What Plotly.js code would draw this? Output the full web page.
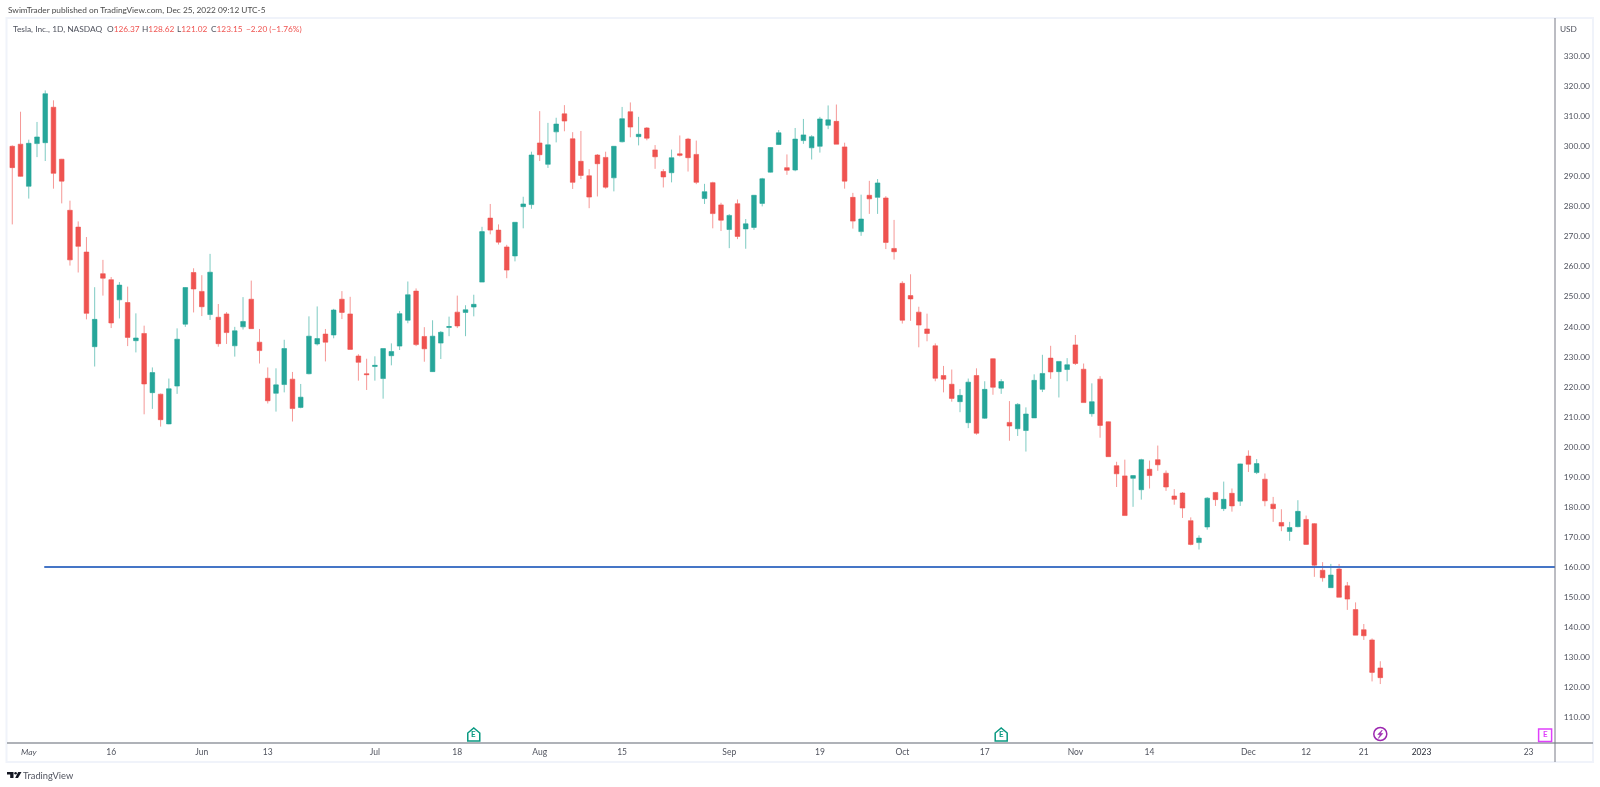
<!DOCTYPE html>
<html><head><meta charset="utf-8">
<script src="https://cdn.plot.ly/plotly-3.0.1.min.js"></script>
<style>html,body{margin:0;padding:0;background:#fff;overflow:hidden}#c{width:1600px;height:787px;filter:blur(0.35px)}</style>
</head><body><div id="c"></div>
<script>
const open=[300.0,300.7,286.7,300.9,301.2,313.0,295.7,278.7,273.1,264.8,233.3,257.6,255.6,248.9,248.0,235.3,237.7,218.0,217.5,207.6,220.2,240.8,258.0,251.7,244.0,243.1,244.2,233.6,239.9,249.1,234.8,222.8,217.8,220.7,222.5,213.1,224.3,234.2,237.5,237.2,
249.1,244.2,230.2,224.3,226.7,222.7,230.3,233.5,242.1,251.8,236.7,225.0,234.5,239.7,244.8,244.7,246.5,254.8,276.1,272.1,266.5,263.5,279.9,280.6,301.1,294.0,304.8,310.8,302.5,295.0,290.2,297.1,296.3,289.5,301.5,311.5,303.2,306.1,298.8,291.6,291.2,297.5,
302.4,297.3,282.6,287.9,280.5,272.3,280.9,272.5,273.0,281.0,291.4,300.6,292.9,292.1,301.9,299.5,300.0,307.0,308.3,299.8,283.0,271.6,283.7,283.0,282.8,266.0,254.4,250.3,244.8,239.2,233.6,223.7,220.8,215.0,208.0,223.7,209.5,229.3,219.5,208.1,206.0,
205.4,209.6,219.1,229.5,225.0,225.7,233.9,225.8,211.0,222.5,208.3,193.7,190.3,189.5,185.7,192.5,195.7,191.2,183.6,184.6,175.4,168.1,173.3,184.8,179.4,184.5,181.9,196.9,191.4,189.2,180.9,174.8,171.8,173.4,175.8,174.4,158.9,153.1,159.3,153.7,145.8,139.1,135.7,126.37];
const high=[300.3,311.5,302.2,308.1,318.6,315.3,295.8,281.9,275.0,269.8,253.1,262.2,256.5,254.8,253.3,244.4,240.3,226.4,217.7,222.7,239.4,253.1,259.4,257.1,264.2,247.5,244.8,239.9,249.8,255.3,239.2,226.4,226.1,235.6,224.9,220.9,243.4,246.7,239.2,245.9,
251.8,249.9,230.8,229.3,230.1,232.7,234.4,245.2,255.0,252.7,239.8,242.1,238.5,243.3,250.3,247.1,250.6,273.2,280.8,274.0,267.2,274.7,283.2,298.2,311.7,307.8,309.5,313.7,304.7,305.1,292.4,297.4,298.2,300.1,313.1,314.6,309.8,306.4,300.4,292.4,298.9,303.6,
302.8,301.9,287.5,288.2,281.2,277.4,282.3,275.8,283.8,289.5,299.7,305.4,297.3,306.1,309.1,303.7,309.8,313.6,313.9,301.2,284.5,283.9,288.5,289.1,283.4,275.5,255.1,257.4,246.6,244.3,234.4,226.9,225.7,219.2,222.7,226.1,221.8,229.4,222.5,215.2,214.5,
213.1,224.1,230.6,233.6,228.4,229.5,237.2,227.7,221.1,223.5,208.4,195.0,195.7,190.5,196.0,195.4,200.4,192.1,185.9,184.9,176.5,170.5,183.2,184.9,188.4,186.1,194.4,198.8,195.9,191.1,183.3,179.2,175.0,182.2,177.1,174.6,161.6,161.0,161.0,155.0,148.2,141.0,136.2,128.62];
const low=[274.0,289.9,282.6,296.4,295.1,285.9,281.0,260.3,258.0,242.4,226.7,250.3,239.5,242.7,233.5,231.4,210.8,212.6,206.7,207.5,217.6,239.9,244.7,243.5,242.2,233.3,234.2,230.0,239.0,239.3,227.7,214.4,211.7,218.1,208.4,212.8,224.1,233.7,228.4,236.1,
242.5,232.4,222.0,218.9,222.0,216.0,227.1,232.2,241.1,233.5,228.3,224.9,229.2,236.8,239.5,236.8,243.4,254.8,270.7,267.3,256.1,261.7,272.7,279.2,295.1,292.8,301.3,305.0,285.8,289.1,279.4,283.3,285.9,285.0,301.3,303.0,300.3,302.0,292.5,286.3,288.0,296.6,
291.6,287.4,280.8,272.7,271.8,266.1,269.1,265.9,272.2,280.0,291.3,300.5,290.5,291.7,300.8,295.6,297.9,305.7,300.7,285.9,272.6,270.2,277.5,277.5,265.8,262.3,241.0,241.9,233.1,235.1,221.8,218.1,215.0,211.5,206.2,204.0,209.3,217.3,217.6,202.0,203.6,
198.4,209.6,218.2,222.6,216.4,221.8,227.2,214.7,210.0,203.0,196.7,186.6,177.1,180.0,182.4,186.1,192.0,185.3,180.7,176.3,167.2,165.8,172.4,180.3,178.6,178.4,180.3,191.6,190.9,180.2,175.0,171.9,168.7,173.2,167.4,156.7,155.1,153.1,149.9,145.7,137.3,135.7,121.9,121.02];
const close=[292.9,290.0,301.0,303.1,317.5,291.0,288.4,262.2,266.7,244.4,242.4,256.1,241.2,253.8,236.4,236.2,220.9,224.7,209.0,219.3,235.8,253.0,252.5,246.6,258.1,234.3,238.0,238.6,241.7,239.3,232.0,215.3,220.6,232.7,212.7,216.5,236.8,236.0,234.8,245.5,
244.7,232.4,228.1,224.0,227.1,232.7,231.7,244.3,250.6,234.0,232.6,236.8,238.1,240.0,240.2,245.6,247.4,271.6,272.1,268.1,258.8,274.7,280.8,297.1,297.2,300.5,307.4,308.4,288.0,290.3,283.1,294.2,286.4,300.0,309.2,306.4,304.0,302.7,296.5,289.8,296.2,297.0,
296.2,288.0,284.9,277.6,275.4,277.0,270.0,274.2,283.7,289.2,299.6,304.5,292.0,302.4,303.8,303.2,309.1,308.8,300.7,288.4,275.1,275.8,282.5,287.8,268.0,264.9,242.1,249.2,240.5,237.7,222.8,222.5,216.1,217.1,221.5,204.5,219.1,219.8,221.7,206.9,214.1,
210.9,222.1,224.4,224.9,228.4,227.3,227.7,214.7,215.0,207.1,196.7,191.0,177.1,190.4,195.7,190.4,194.0,186.6,182.5,179.6,167.5,169.6,182.9,182.4,182.5,180.3,194.3,194.2,194.4,182.0,179.4,173.6,173.1,178.5,167.5,160.6,156.4,157.3,149.9,149.3,137.3,137.1,124.9,123.15];
const priceTicks=[110,120,130,140,150,160,170,180,190,200,210,220,230,240,250,260,270,280,290,300,310,320,330];
const priceLabels=priceTicks.map(v=>v.toFixed(2));
const dateTickBars=[2,12,23,31,44,54,64,74,87,98,108,118,129,138,150,157,164,171,184];
const dateTickLabels=['May','16','Jun','13','Jul','18','Aug','15','Sep','19','Oct','17','Nov','14','Dec','12','21','2023','23'];
const levelBars=[3.88,187.2];
const levelPrices=[160,160];
const earningsBars=[56,120];
const bars=open.map((_,i)=>i);

const W=1600,H=787,m={l:7,r:45,t:18,b:44};
const pw=W-m.l-m.r,ph=H-m.t-m.b;
const fx=px=>(px-m.l)/pw, fy=py=>1-(py-m.t)/ph;
const FONT='Lato, "Open Sans", sans-serif';
const txtGrey='#50535E',red='#EF5350';
const note=(text,px,py,size,color)=>({text,x:fx(px),y:fy(py),xref:'paper',yref:'paper',xanchor:'left',yanchor:'middle',showarrow:false,align:'left',font:{family:FONT,size,color}});
const col=(t,c)=>`<span style="color:${c}">${t}</span>`;
const pix=(xref,xanchor,o)=>Object.assign({xref,xanchor,xsizemode:'pixel',yref:'paper',yanchor:0,ysizemode:'pixel'},o);

const shapes=[
 {type:'rect',xref:'paper',yref:'paper',x0:fx(6.5),x1:fx(1593),y0:fy(18),y1:fy(762),line:{color:'#F0F3FA',width:2},fillcolor:'rgba(0,0,0,0)',layer:'below'},
 {type:'line',xref:'paper',yref:'paper',x0:0,x1:fx(1593),y0:0,y1:0,line:{color:'#9598A1',width:1.5}},
 {type:'line',xref:'paper',yref:'paper',x0:1,x1:1,y0:1,y1:fy(762),line:{color:'#787B86',width:1}},
 ...earningsBars.map(b=>pix('x',b,{type:'path',path:'M-6,2 L6,2 L6,10 L0,15 L-6,10 Z',line:{color:'#089981',width:1.5},fillcolor:'#fff'})),
 pix('x',166,{type:'circle',x0:-6.5,x1:6.5,y0:2.5,y1:15.5,line:{color:'#9C27B0',width:1.5},fillcolor:'#fff'}),
 pix('x',166,{type:'path',path:'M2,13 L-2.5,8.5 L0,8.5 L-2,4.5 L2.5,9.5 L0,9.5 Z',line:{color:'#9C27B0',width:0.6},fillcolor:'#9C27B0'}),
 pix('x',186,{type:'rect',x0:-6.5,x1:6.5,y0:1.5,y1:14,line:{color:'#E040FB',width:1.5},fillcolor:'#fff'}),
 pix('paper',0,{type:'path',path:'M0,-29 L6.5,-29 L6.5,-35 L3.2,-35 L3.2,-31.6 L0,-31.6 Z',line:{width:0},fillcolor:'#131722'}),
 pix('paper',0,{type:'path',path:'M8.2,-35 L11,-35 L14.5,-29 L11.2,-29 Z',line:{width:0},fillcolor:'#131722'}),
 pix('paper',0,{type:'circle',x0:7.3,x1:9.9,y0:-31.6,y1:-29,line:{width:0},fillcolor:'#131722'})
];
const eNote=(b,c,size)=>({text:'<b>E</b>',x:b,xref:'x',y:0,yref:'paper',yanchor:'bottom',yshift:2,showarrow:false,font:{family:FONT,size,color:c}});
const annotations=[
 note('SwimTrader published on TradingView.com, Dec 25, 2022 09:12 UTC-5',5.5,10,8.3,'#4A4A4A'),
 note('Tesla, Inc., 1D, NASDAQ',10.5,29,8.4,txtGrey),
 note('O'+col('126.37',red),104.5,29,8.3,txtGrey),
 note('H'+col('128.62',red),140,29,8.3,txtGrey),
 note('L'+col('121.02',red),175,29,8.3,txtGrey),
 note('C'+col('123.15',red),209,29,8.3,txtGrey),
 note(col('−2.20 (−1.76%)',red),243.5,29,8.3,txtGrey),
 note('USD',1558,28.5,8.3,txtGrey),
 note('TradingView',20.5,775,9.3,txtGrey),
 ...earningsBars.map(b=>eNote(b,'#089981',8)),
 eNote(186,'#E040FB',8)
];

Plotly.newPlot('c',[
 {type:'candlestick',x:bars,open,high,low,close,
  increasing:{line:{color:'rgba(38,166,154,0.6)',width:1},fillcolor:'#26A69A'},
  decreasing:{line:{color:'rgba(239,83,80,0.6)',width:1},fillcolor:'#EF5350'},
  whiskerwidth:0,hoverinfo:'skip',showlegend:false},
 {type:'scatter',mode:'lines',x:levelBars,y:levelPrices,line:{color:'#4575C6',width:2},hoverinfo:'skip',showlegend:false}
],{
 width:W,height:H,margin:{l:m.l,r:m.r,t:m.t,b:m.b,pad:0},
 paper_bgcolor:'#fff',plot_bgcolor:'#fff',showlegend:false,boxgap:0.2,
 xaxis:{type:'linear',range:[-0.64,187.2],rangeslider:{visible:false},showgrid:false,zeroline:false,
  tickmode:'array',tickvals:dateTickBars,ticktext:dateTickLabels.map(t=>t==='2023'?col(t,'#2A2E39'):(t==='May'?'<i>May</i>':t)),
  ticks:'outside',ticklen:1,tickcolor:'rgba(0,0,0,0)',tickfont:{family:FONT,size:8.5,color:txtGrey},tickangle:0,automargin:false},
 yaxis:{side:'right',range:[101.4,342.7],showgrid:false,zeroline:false,
  tickmode:'array',tickvals:priceTicks,ticktext:priceLabels,
  ticks:'outside',ticklen:6,tickcolor:'rgba(0,0,0,0)',tickfont:{family:FONT,size:8.4,color:txtGrey},automargin:false},
 shapes,annotations
},{staticPlot:true,displayModeBar:false});
</script></body></html>
